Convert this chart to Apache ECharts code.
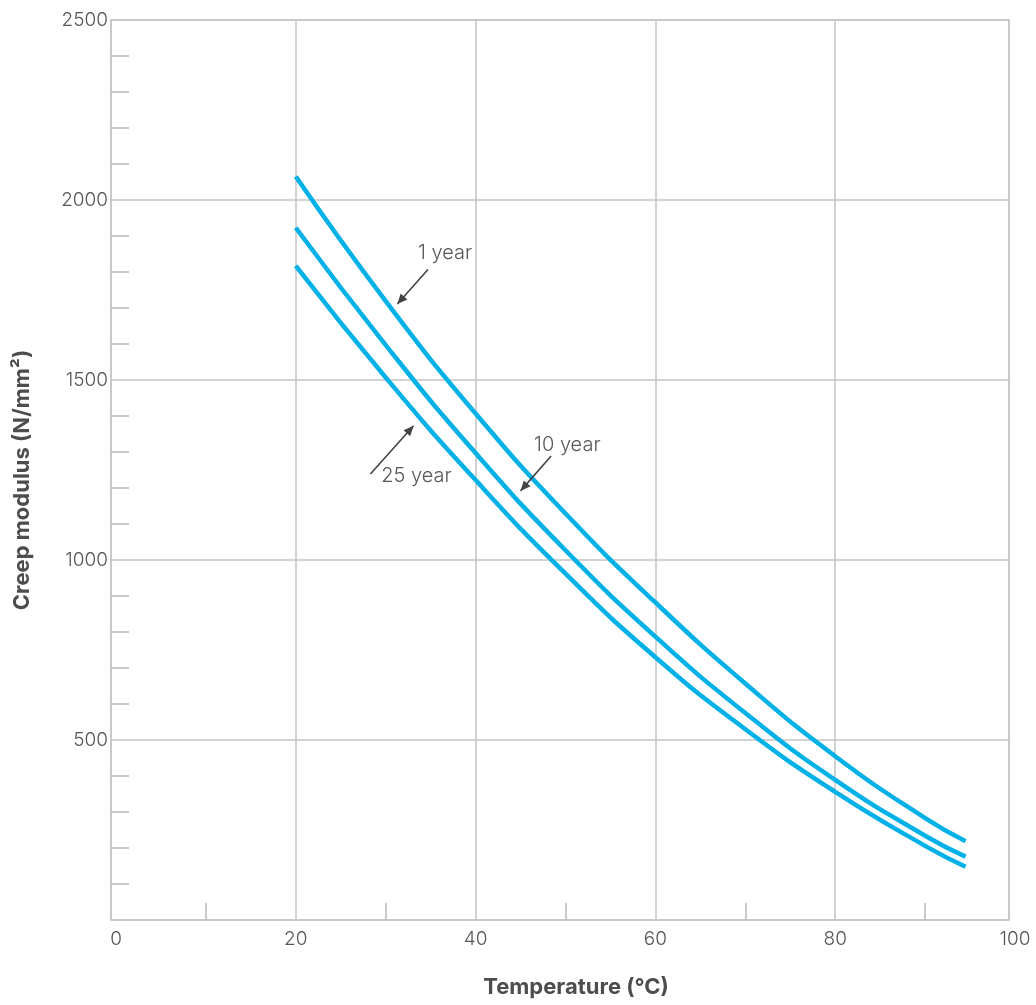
<!DOCTYPE html>
<html>
<head>
<meta charset="utf-8">
<script src="https://cdn.jsdelivr.net/npm/echarts@6/dist/echarts.min.js"></script>
<style>
html,body{margin:0;padding:0;background:#fff;}
#chart{width:1036px;height:1005px;}
</style>
</head>
<body>
<div id="chart"></div>
<script>
// Data
const temperature = [20, 30, 40, 50, 60, 70, 80, 90, 94.5];
const year1  = [2065, 1719, 1407, 1129, 882, 657, 455, 283, 219];
const year10 = [1923, 1597, 1297, 1027, 787, 575, 389, 234, 176];
const year25 = [1817, 1507, 1222, 962, 730, 530, 356, 206, 148];
const seriesNames = ['1 year', '10 year', '25 year'];
const xTicks = [0, 20, 40, 60, 80, 100];
const yTicks = [500, 1000, 1500, 2000, 2500];
// annotation arrows in data space: [label, textAt (left, middle), tail, head]
const annotations = [
  ['1 year',  [33.6, 1853], [34.7, 1807], [31.3, 1711]],
  ['10 year', [46.5, 1319], [48.4, 1289], [45.0, 1192]],
  ['25 year', [29.5, 1233], [28.3, 1239], [33.1, 1373]]
];

const gridColor = '#c4c4c4';
const frameColor = '#b8b8b8';
const textColor = '#575757';
const lineColor = '#00b1e7';
const fontFam = 'Inter, "Open Sans", sans-serif';

function pairs(xs, ys) { return xs.map((x, i) => [x, ys[i]]); }

const chart = echarts.init(document.getElementById('chart'), null, {renderer: 'canvas'});
const option = {
  backgroundColor: '#ffffff',
  animation: false,
  grid: [
    {left: 111, right: 27, top: 20, bottom: 85, show: true, borderColor: frameColor, borderWidth: 1.5, backgroundColor: 'transparent'},
    {left: 116, right: 21, top: 20, bottom: 85, show: false}
  ],
  xAxis: [
    {gridIndex: 0, type: 'value', min: 0, max: 100, show: false},
    {gridIndex: 1, type: 'value', min: 0, max: 100, interval: 20,
     axisLine: {show: false},
     axisTick: {show: false, inside: true},
     minorTick: {show: true, splitNumber: 2, length: 17, lineStyle: {color: frameColor, width: 1.5}},
     splitLine: {show: true, showMinLine: false, showMaxLine: false, lineStyle: {color: gridColor, width: 1.5}},
     axisLabel: {color: textColor, fontSize: 19, fontFamily: fontFam, fontWeight: 300, margin: 10,
       formatter: v => xTicks.indexOf(v) >= 0 ? String(v) : ''}
    }
  ],
  yAxis: [
    {gridIndex: 0, type: 'value', min: 0, max: 2500, interval: 500,
     axisLine: {show: false},
     axisTick: {show: false, inside: true},
     minorTick: {show: true, splitNumber: 5, length: 18, lineStyle: {color: frameColor, width: 1.5}},
     splitLine: {show: true, showMinLine: false, showMaxLine: false, lineStyle: {color: gridColor, width: 1.5}},
     axisLabel: {color: textColor, fontSize: 19, fontFamily: fontFam, fontWeight: 300, margin: 3,
       formatter: v => yTicks.indexOf(v) >= 0 ? String(v) : ''}
    },
    {gridIndex: 1, type: 'value', min: 0, max: 2500, show: false}
  ],
  series: [year1, year10, year25].map((ys, i) => ({
    name: seriesNames[i],
    type: 'line',
    xAxisIndex: 1, yAxisIndex: 1,
    data: pairs(temperature, ys),
    smooth: 0.5,
    showSymbol: false,
    lineStyle: {color: lineColor, width: 4.5, cap: 'butt'},
    z: 5
  })),
  graphic: []
};
chart.setOption(option);

const g = [];
annotations.forEach(a => {
  const t = chart.convertToPixel({xAxisIndex: 1, yAxisIndex: 1}, a[1]);
  const p1 = chart.convertToPixel({xAxisIndex: 1, yAxisIndex: 1}, a[2]);
  const p2 = chart.convertToPixel({xAxisIndex: 1, yAxisIndex: 1}, a[3]);
  g.push({type: 'text', x: t[0], y: t[1], style: {text: a[0], fill: textColor, font: '300 20px ' + fontFam, textAlign: 'left', textVerticalAlign: 'middle'}, z: 10});
  g.push({type: 'line', shape: {x1: p1[0], y1: p1[1], x2: p2[0], y2: p2[1]}, style: {stroke: '#444', lineWidth: 1.6}, z: 10});
  const ang = Math.atan2(p2[1] - p1[1], p2[0] - p1[0]);
  const L = 10, W = 4.5;
  const bx = p2[0] - L * Math.cos(ang), by = p2[1] - L * Math.sin(ang);
  const nx = -Math.sin(ang) * W, ny = Math.cos(ang) * W;
  g.push({type: 'polygon', shape: {points: [[p2[0], p2[1]], [bx + nx, by + ny], [bx - nx, by - ny]]}, style: {fill: '#444'}, z: 10});
});
g.push({type: 'text', x: 576, y: 987, style: {text: 'Temperature (°C)', fill: '#4d4d4d', font: 'bold 22px ' + fontFam, textAlign: 'center', textVerticalAlign: 'middle'}});
g.push({type: 'text', x: 22, y: 480, rotation: Math.PI / 2, style: {text: 'Creep modulus (N/mm²)', fill: '#4d4d4d', font: 'bold 22px ' + fontFam, textAlign: 'center', textVerticalAlign: 'middle'}});
chart.setOption({graphic: g});
</script>
</body>
</html>
